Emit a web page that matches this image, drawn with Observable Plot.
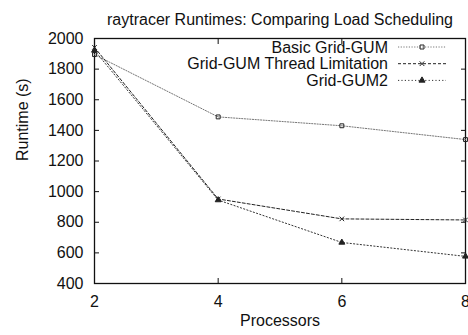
<!DOCTYPE html>
<html><head><meta charset="utf-8">
<script src="https://cdn.jsdelivr.net/npm/d3@7"></script>
<script src="https://cdn.jsdelivr.net/npm/@observablehq/plot@0.6"></script>
<style>
body{margin:0;background:#fff;}
svg{font-family:"Liberation Sans",Arial,sans-serif;}
</style></head><body><div id="chart"></div>
<script>
const processors = [2, 4, 6, 8];
const basicGridGUM = [1895, 1488, 1430, 1340];
const threadLimitation = [1942, 952, 822, 815];
const gridGUM2 = [1922, 945, 668, 577];
const seriesNames = ["Basic Grid-GUM", "Grid-GUM Thread Limitation", "Grid-GUM2"];
const yTicks = [400, 600, 800, 1000, 1200, 1400, 1600, 1800, 2000];
const xTicks = [2, 4, 6, 8];

const styles = {
  "Basic Grid-GUM": {stroke: "#777", dash: "1.2,1.5", symbol: "square", fill: "none"},
  "Grid-GUM Thread Limitation": {stroke: "#222", dash: "3,2", symbol: "times", fill: "none"},
  "Grid-GUM2": {stroke: "#333", dash: "1.2,2.2", symbol: "triangle", fill: "#222"}
};
const valuesBySeries = [basicGridGUM, threadLimitation, gridGUM2];
const data = seriesNames.flatMap((s, i) => processors.map((p, j) => ({series: s, p, v: valuesBySeries[i][j]})));

const lineMarks = seriesNames.flatMap(s => {
  const d = data.filter(r => r.series === s);
  const st = styles[s];
  return [
    Plot.line(d, {x: "p", y: "v", stroke: st.stroke, strokeWidth: 1, strokeDasharray: st.dash}),
    Plot.dot(d, {x: "p", y: "v", symbol: () => st.symbol, r: 2.2, stroke: "#222", strokeWidth: 1, fill: st.fill})
  ];
});

const plot = Plot.plot({
  width: 468, height: 335,
  marginTop: 38, marginBottom: 52, marginLeft: 94, marginRight: 3,
  style: {fontSize: "16px", fontFamily: "Liberation Sans, Arial, sans-serif", color: "#111", background: "#fff"},
  x: {domain: [2, 8]},
  y: {domain: [400, 2000]},
  marks: [
    Plot.axisY(yTicks, {anchor: "left", tickSize: 0, tickPadding: 11, label: null, fontSize: 16, tickFormat: "d"}),
    Plot.axisY(yTicks, {anchor: "left", tickSize: -5, tickFormat: () => "", label: null}),
    Plot.axisY(yTicks, {anchor: "right", tickSize: -5, tickFormat: () => "", label: null}),
    Plot.axisX(xTicks, {anchor: "bottom", tickSize: 0, tickPadding: 12, label: null, fontSize: 16, tickFormat: "d"}),
    Plot.axisX(xTicks, {anchor: "bottom", tickSize: -5, tickFormat: () => "", label: null}),
    Plot.axisX(xTicks, {anchor: "top", tickSize: -5, tickFormat: () => "", label: null}),
    Plot.frame({stroke: "#111", strokeWidth: 1.3}),
    ...lineMarks,
    Plot.text(["raytracer Runtimes: Comparing Load Scheduling"], {frameAnchor: "top", dy: -25, fontSize: 16}),
    Plot.text(["Processors"], {frameAnchor: "bottom", dy: 42, fontSize: 16}),
    Plot.text(["Runtime (s)"], {frameAnchor: "left", rotate: -90, dx: -72, fontSize: 16})
  ]
});
document.getElementById("chart").append(plot);

// legend (inside the frame, top right) drawn with d3 in the plot's svg
const svg = d3.select(plot);
const lg = svg.append("g").attr("font-size", 16).attr("font-family", "Liberation Sans, Arial, sans-serif");
seriesNames.forEach((s, i) => {
  const y = 47 + i * 16.7;
  const st = styles[s];
  lg.append("text").attr("x", 388).attr("y", y).attr("dy", "0.35em").attr("text-anchor", "end").attr("fill", "#111").text(s);
  lg.append("line").attr("x1", 398).attr("x2", 446).attr("y1", y).attr("y2", y)
    .attr("stroke", st.stroke).attr("stroke-dasharray", st.dash);
  const sym = d3.symbol(st.symbol === "square" ? d3.symbolSquare : st.symbol === "times" ? d3.symbolTimes : d3.symbolTriangle, 16);
  lg.append("path").attr("d", sym()).attr("transform", `translate(422,${y})`)
    .attr("stroke", "#222").attr("fill", st.fill);
});
</script></body></html>
